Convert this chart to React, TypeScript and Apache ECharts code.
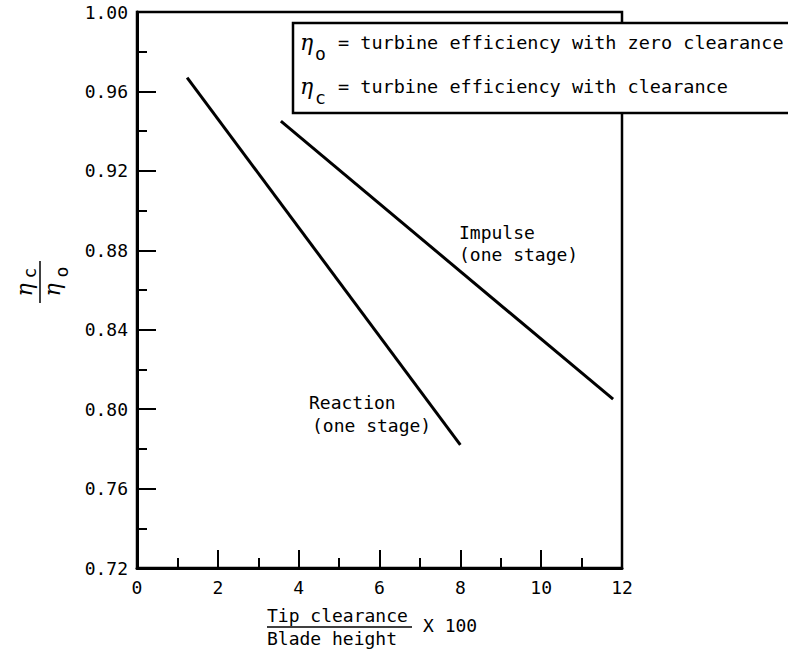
import React, { useEffect, useRef } from "react";
import * as echarts from "echarts";

const xTicks = [0, 2, 4, 6, 8, 10, 12];
const yTicks = [0.72, 0.76, 0.8, 0.84, 0.88, 0.92, 0.96, 1.0];
const reaction: [number, number][] = [
  [1.24, 0.967],
  [8.0, 0.782],
];
const impulse: [number, number][] = [
  [3.56, 0.945],
  [11.78, 0.805],
];
const legendLines = [
  { sym: "η", sub: "o", text: "= turbine efficiency with zero clearance" },
  { sym: "η", sub: "c", text: "= turbine efficiency with clearance" },
];

const MONO = "'DejaVu Sans Mono', monospace";
const GREEK = "'DejaVu Serif', serif";

export default function App() {
  const ref = useRef<HTMLDivElement>(null);
  useEffect(() => {
    if (!ref.current) return;
    const chart = echarts.init(ref.current, undefined, { renderer: "svg" });
    const txt = (x: number, y: number, text: string, extra: any = {}) => ({
      type: "text",
      x,
      y,
      z: 110,
      style: {
        text,
        fill: "#000",
        font: `18px ${MONO}`,
        textVerticalAlign: "middle",
        verticalAlign: "middle",
        ...extra,
      },
    });
    const legendEls: any[] = [];
    legendLines.forEach((l, i) => {
      const cy = 42 + i * 44;
      legendEls.push(
        txt(300, cy, l.sym, { font: `italic 22px ${GREEK}` }),
        txt(315, cy + 11, l.sub, { font: `18px ${MONO}` }),
        txt(338, cy, l.text, { font: `18.5px ${MONO}` })
      );
    });
    chart.setOption({
      animation: false,
      backgroundColor: "#fff",
      grid: {
        left: 137,
        top: 12,
        right: 166,
        bottom: 81,
        show: true,
        borderColor: "#000",
        borderWidth: 2.5,
        backgroundColor: "transparent",
      },
      xAxis: {
        type: "value",
        min: xTicks[0],
        max: xTicks[xTicks.length - 1],
        interval: 2,
        axisLine: { show: true, onZero: false, lineStyle: { color: "#000", width: 3 } },
        axisTick: { show: true, inside: true, length: 18, lineStyle: { color: "#000", width: 2 } },
        minorTick: { show: true, splitNumber: 2, length: 10, lineStyle: { color: "#000", width: 2 } },
        splitLine: { show: false },
        axisLabel: {
          color: "#000",
          fontFamily: MONO,
          fontSize: 18,
          margin: 10,
          formatter: (v: number) => String(v),
        },
      },
      yAxis: {
        type: "value",
        min: yTicks[0],
        max: yTicks[yTicks.length - 1],
        interval: 0.04,
        axisLine: { show: true, onZero: false, lineStyle: { color: "#000", width: 3 } },
        axisTick: { show: true, inside: true, length: 19, lineStyle: { color: "#000", width: 2 } },
        minorTick: { show: true, splitNumber: 2, length: 10, lineStyle: { color: "#000", width: 2 } },
        splitLine: { show: false },
        axisLabel: {
          color: "#000",
          fontFamily: MONO,
          fontSize: 18,
          margin: 9,
          formatter: (v: number) => v.toFixed(2),
        },
      },
      series: [
        {
          name: "Reaction (one stage)",
          type: "line",
          data: reaction,
          showSymbol: false,
          lineStyle: { color: "#000", width: 3 },
        },
        {
          name: "Impulse (one stage)",
          type: "line",
          data: impulse,
          showSymbol: false,
          lineStyle: { color: "#000", width: 3 },
        },
      ],
      graphic: [
        {
          type: "rect",
          z: 100,
          shape: { x: 293, y: 23, width: 520, height: 90 },
          style: { fill: "#fff", stroke: "#000", lineWidth: 2.5 },
        },
        ...legendEls,
        txt(459, 232, "Impulse"),
        txt(459, 254, "(one stage)"),
        txt(309, 402, "Reaction"),
        txt(312, 425, "(one stage)"),
        txt(267, 615, "Tip clearance"),
        {
          type: "line",
          z: 110,
          shape: { x1: 267, y1: 627, x2: 412, y2: 627 },
          style: { stroke: "#000", lineWidth: 1.5 },
        },
        txt(267, 638, "Blade height"),
        txt(423, 625, "X 100"),
        {
          type: "group",
          x: 40,
          y: 282,
          rotation: Math.PI / 2,
          z: 110,
          children: [
            {
              type: "line",
              shape: { x1: -21, y1: 0, x2: 21, y2: 0 },
              style: { stroke: "#000", lineWidth: 1.5 },
            },
            {
              type: "text",
              x: -8,
              y: -16,
              style: { text: "η", fill: "#000", font: `italic 22px ${GREEK}`, align: "center", verticalAlign: "middle" },
            },
            {
              type: "text",
              x: 9,
              y: -11,
              style: { text: "c", fill: "#000", font: `18px ${MONO}`, align: "center", verticalAlign: "middle" },
            },
            {
              type: "text",
              x: -8,
              y: 12,
              style: { text: "η", fill: "#000", font: `italic 22px ${GREEK}`, align: "center", verticalAlign: "middle" },
            },
            {
              type: "text",
              x: 10,
              y: 21,
              style: { text: "o", fill: "#000", font: `18px ${MONO}`, align: "center", verticalAlign: "middle" },
            },
          ],
        },
      ],
    });
    return () => chart.dispose();
  }, []);
  return (
    <div
      ref={ref}
      style={{ position: "fixed", left: 0, top: 0, width: 788, height: 649, background: "#fff" }}
    />
  );
}
